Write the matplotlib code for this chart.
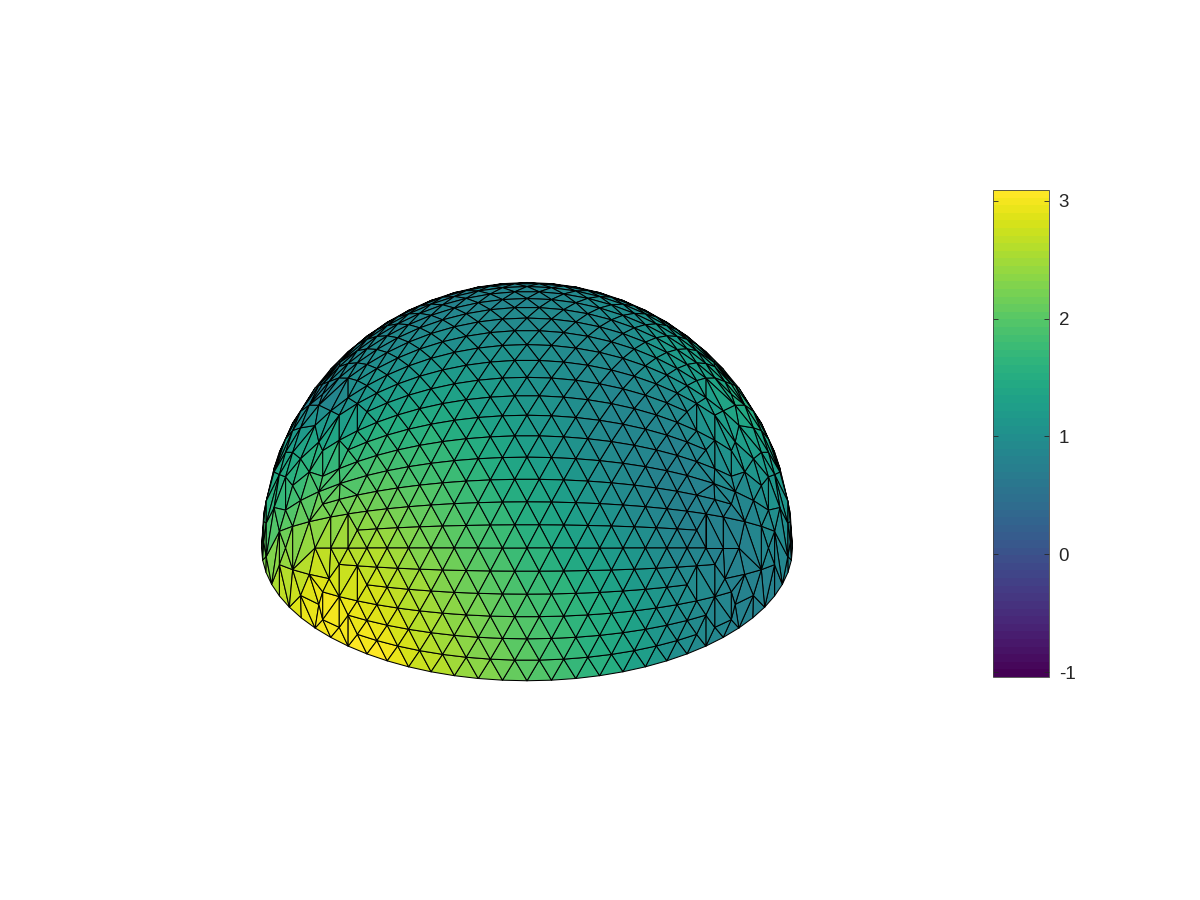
import numpy as np
import matplotlib
matplotlib.use("Agg")
import matplotlib.pyplot as plt
import matplotlib.tri as mtri
from matplotlib.collections import PolyCollection

plt.rcParams['font.family'] = ['Liberation Sans', 'DejaVu Sans']

# mesh rows: great circles through the left and right rim points, degrees from the view axis
row_angle = [-30, -25, -20, -15, -10, -5, 0, 5, 10, 15, 20, 25, 30, 35, 40, 45, 50, 55,
             60, 65, 70, 75, 80, 85, 90, 95, 100, 105, 110, 115, 120, 125, 130, 135, 140, 145, 150]
col_step = 5.45
# further out than these, only every 2nd / 4th row goes on
thin_at = [47, 68]
# the reference mesh has no straight seam there, so the limit moves from row to row
thin_shift = [0, 5, -3, 7, -6, 3, 8, -4, 1, 6, -7, 4, -2, 8, -5, 2, 6, -3]

# colour values, on a grid of image positions
grid_x = [262, 320, 380, 440, 500, 560, 620, 680, 740, 793]
grid_y = [300, 350, 400, 450, 500, 550, 600, 650, 682]
grid_val = [
    [0.70, 0.70, 0.75, 0.80, 0.85, 0.90, 1.00, 1.15, 1.30, 1.30],
    [0.70, 0.75, 0.95, 1.05, 1.05, 0.95, 0.90, 1.25, 1.55, 1.60],
    [0.70, 0.75, 1.25, 1.35, 1.20, 1.00, 0.85, 0.95, 1.55, 1.75],
    [1.10, 1.55, 1.75, 1.70, 1.40, 1.10, 0.85, 0.80, 1.15, 1.50],
    [1.50, 2.10, 2.15, 1.95, 1.60, 1.30, 0.95, 0.75, 0.85, 1.15],
    [2.10, 2.60, 2.55, 2.15, 1.85, 1.45, 1.15, 0.85, 0.80, 0.90],
    [2.60, 3.00, 2.80, 2.40, 2.05, 1.70, 1.35, 1.00, 0.80, 0.80],
    [3.00, 3.05, 3.05, 2.55, 2.15, 1.80, 1.40, 1.00, 0.80, 0.80],
    [3.05, 3.05, 3.05, 2.65, 2.20, 1.85, 1.45, 1.05, 0.80, 0.80],
]
cbar_ticks = [-1, 0, 1, 2, 3]
cbar_labels = ['-1', '0', '1', '2', '3']
val_min = -1.04
val_max = 3.09

# position of the dome in the image
cx, cy, rad = 527.0, 548.0, 265.5
elev = np.radians(30)


def lookup(px, py):
    # bilinear read of the value table
    gx = np.array(grid_x, float)
    gy = np.array(grid_y, float)
    gv = np.array(grid_val)
    fx = np.interp(px, gx, np.arange(len(gx)))
    fy = np.interp(py, gy, np.arange(len(gy)))
    i = np.minimum(fx.astype(int), len(gx) - 2)
    j = np.minimum(fy.astype(int), len(gy) - 2)
    a = fx - i
    b = fy - j
    return (gv[j, i] * (1 - a) * (1 - b) + gv[j, i + 1] * a * (1 - b)
            + gv[j + 1, i] * (1 - a) * b + gv[j + 1, i + 1] * a * b)


alpha, beta = [], []
ncol = int(round(90 / col_step))
step = 90.0 / ncol
last = len(row_angle) - 1
for k, a in enumerate(row_angle):
    if k == 0 or k == last:
        # the rim itself, all the way round
        for i in range(-ncol, ncol + 1):
            alpha.append(a)
            beta.append(i * step)
        continue
    lim1 = thin_at[0] + thin_shift[k % len(thin_shift)]
    lim2 = thin_at[1] + thin_shift[(k + 5) % len(thin_shift)]
    for i in range(-ncol - 1, ncol + 2):
        b = (i + 0.5 * (k % 2)) * step
        if abs(b) <= lim1:
            alpha.append(a)
            beta.append(b)
    # outer zones have wider rows, so shift columns row by row there too
    if k % 2 == 0:
        for i in range(-ncol - 1, ncol + 2):
            b = (i + 0.5 * ((k // 2) % 2)) * step * 1.3
            if lim1 + step * 0.7 < abs(b) <= lim2 - 1:
                alpha.append(a)
                beta.append(b)
    if k % 4 == 0:
        for i in range(-ncol - 1, ncol + 2):
            b = (i + 0.5 * ((k // 4) % 2)) * step * 1.3
            if lim2 + step * 0.7 < abs(b) <= 86:
                alpha.append(a)
                beta.append(b)
alpha = np.radians(alpha)
beta = np.radians(beta)

# image coordinates on the unit sphere, view axis towards us
scr_x = np.sin(beta)
scr_y = np.cos(beta) * np.sin(alpha)
depth = np.cos(beta) * np.cos(alpha)

# world z and the flat map of the dome, only used to connect the vertices
wz = depth * np.sin(elev) + scr_y * np.cos(elev)
wy = scr_y * np.sin(elev) - depth * np.cos(elev)
wz = np.clip(wz, 0, 1)
colat = np.arccos(wz)
lon = np.arctan2(scr_x, -wy)
tri = mtri.Triangulation(colat * np.cos(lon), colat * np.sin(lon))

faces = tri.triangles
keep = depth[faces].mean(axis=1) > -0.02
faces = faces[keep]
# draw back to front so that the rim stays clean
faces = faces[np.argsort(depth[faces].mean(axis=1))]

polys = np.dstack([scr_x[faces], scr_y[faces]])
centre_x = cx + rad * polys[:, :, 0].mean(axis=1)
centre_y = cy - rad * polys[:, :, 1].mean(axis=1)
values = lookup(centre_x, centre_y)

fig = plt.figure(figsize=(12, 9), dpi=100)
ax = fig.add_axes([0, 0, 1, 1])
ax.set_xlim(-cx / rad, (1200 - cx) / rad)
ax.set_ylim(-(900 - cy) / rad, cy / rad)
ax.axis('off')

cmap = matplotlib.colormaps['viridis'].resampled(64)
pc = PolyCollection(polys, array=values, cmap=cmap, edgecolors='k', linewidths=0.75)
pc.set_clim(val_min, val_max)
ax.add_collection(pc)

cax = fig.add_axes([993 / 1200, (900 - 677) / 900, 56 / 1200, 487 / 900])
cb = fig.colorbar(pc, cax=cax)
cb.set_ticks(cbar_ticks, labels=cbar_labels)
cb.outline.set_edgecolor('#444444')
cb.outline.set_linewidth(0.6)
cax.tick_params(axis='y', direction='in', left=True, right=True, length=3.5, width=0.6,
                color='#262626', labelcolor='#262626', labelsize=13.5, pad=7)

fig.savefig('out.png', dpi=100)
